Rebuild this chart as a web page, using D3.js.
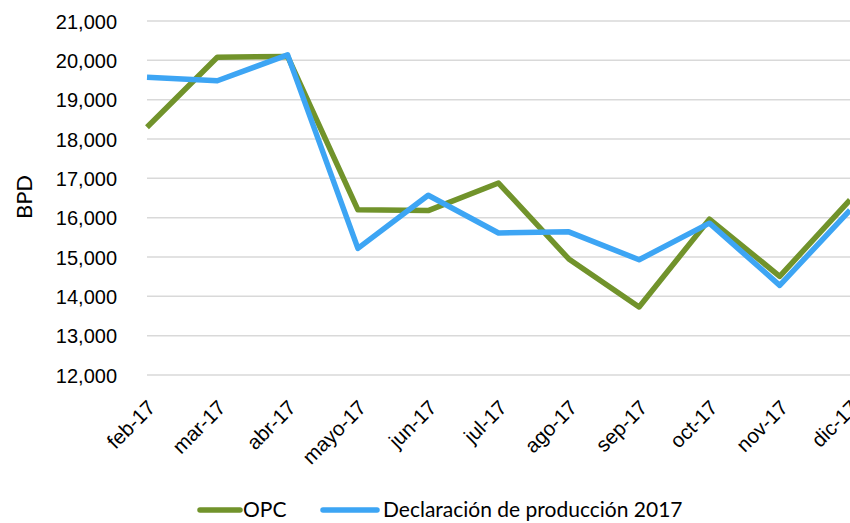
<!DOCTYPE html>
<html>
<head>
<meta charset="utf-8">
<script src="https://cdn.jsdelivr.net/npm/d3@7"></script>
<style>
  body { margin: 0; background: #fff; }
  svg { font-family: Lato, "Open Sans", sans-serif; }
  .grid line { stroke: #d9d9d9; stroke-width: 1.5; }
  .tick text { fill: #000; }
</style>
</head>
<body>
<div class="chart"></div>
<script>
var months = ["feb-17", "mar-17", "abr-17", "mayo-17", "jun-17", "jul-17", "ago-17", "sep-17", "oct-17", "nov-17", "dic-17"];
var opc = [18300, 20080, 20100, 16200, 16180, 16880, 14950, 13730, 15960, 14510, 16450];
var declaracion = [19570, 19480, 20140, 15220, 16570, 15610, 15640, 14930, 15860, 14280, 16190];
var yTicks = [12000, 13000, 14000, 15000, 16000, 17000, 18000, 19000, 20000, 21000];

var svgWidth = 850;
var svgHeight = 523;

var svg = d3.select(".chart")
    .append("svg")
    .attr("width", svgWidth)
    .attr("height", svgHeight);

// scales - plot runs to the right edge
var xScale = d3.scalePoint()
    .domain(months)
    .range([147, 850]);

var yScale = d3.scaleLinear()
    .domain([12000, 21000])
    .range([375, 21]);

// gridlines
svg.append("g")
    .attr("class", "grid")
    .selectAll("line")
    .data(yTicks)
    .enter()
    .append("line")
    .attr("x1", 147)
    .attr("x2", 850)
    .attr("y1", d => yScale(d))
    .attr("y2", d => yScale(d));

// y axis labels
var leftAxis = d3.axisLeft(yScale)
    .tickValues(yTicks)
    .tickFormat(d3.format(","))
    .tickSize(0)
    .tickPadding(30);

var yAxis = svg.append("g")
    .attr("transform", "translate(147,0)")
    .call(leftAxis);
yAxis.select(".domain").remove();
yAxis.selectAll("text")
    .style("font-size", "20px")
    .attr("dy", "0.36em");

// x axis labels, rotated
var bottomAxis = d3.axisBottom(xScale).tickSize(0);
var xAxis = svg.append("g")
    .attr("transform", "translate(0,375)")
    .call(bottomAxis);
xAxis.select(".domain").remove();
xAxis.selectAll("text")
    .style("font-size", "20.5px")
    .attr("y", 0)
    .attr("dy", 0)
    .attr("text-anchor", "end")
    .attr("transform", "translate(9,34) rotate(-45)");

// y axis title
svg.append("text")
    .attr("transform", "translate(32,197) rotate(-90)")
    .attr("text-anchor", "middle")
    .style("font-size", "22px")
    .text("BPD");

// lines
var line = d3.line()
    .x((d, i) => xScale(months[i]))
    .y(d => yScale(d));

var series = [
    { name: "OPC", values: opc, color: "#71932b" },
    { name: "Declaración de producción 2017", values: declaracion, color: "#3da5f4" }
];

svg.selectAll(".series")
    .data(series)
    .enter()
    .append("path")
    .attr("class", "series")
    .attr("d", d => line(d.values))
    .attr("fill", "none")
    .attr("stroke", d => d.color)
    .attr("stroke-width", 5.5)
    .attr("stroke-linejoin", "round");

// legend
var legendX = [200, 323];
var legend = svg.selectAll(".legend")
    .data(series)
    .enter()
    .append("g")
    .attr("class", "legend")
    .attr("transform", (d, i) => "translate(" + legendX[i] + ",510)");

legend.append("line")
    .attr("x1", 0)
    .attr("x2", (d, i) => i == 0 ? 40 : 54)
    .attr("stroke", d => d.color)
    .attr("stroke-width", 5.5)
    .attr("stroke-linecap", "round");

legend.append("text")
    .attr("x", (d, i) => i == 0 ? 43 : 60)
    .attr("dy", "0.35em")
    .style("font-size", "21px")
    .text(d => d.name);
</script>
</body>
</html>
